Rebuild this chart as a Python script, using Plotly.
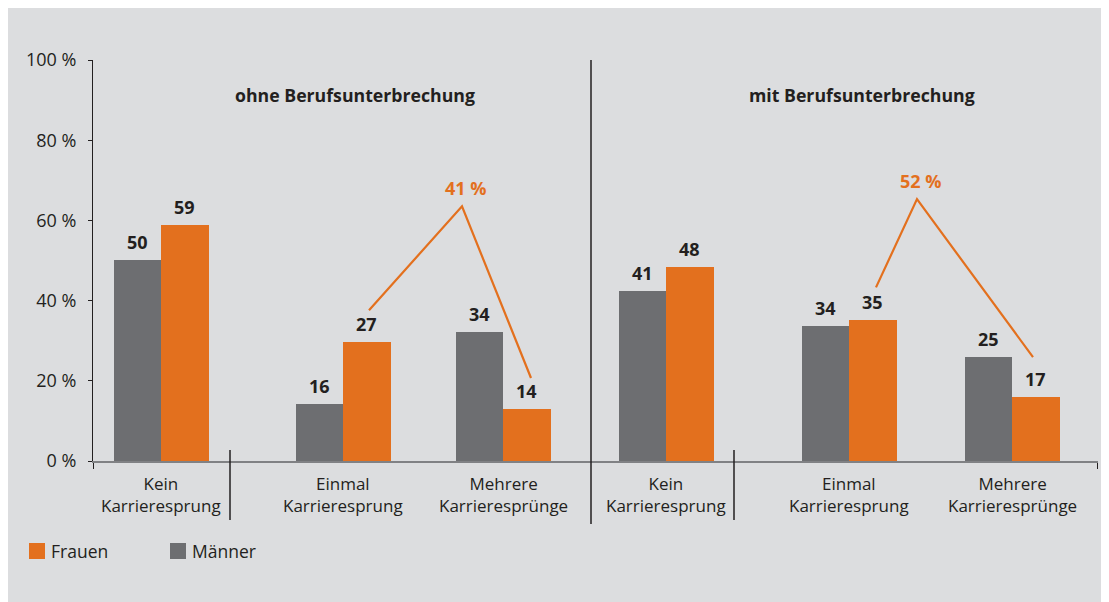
import plotly.graph_objects as go

# ---------------- data ----------------
categories = ["Kein<br>Karrieresprung", "Einmal<br>Karrieresprung", "Mehrere<br>Karrieresprünge",
              "Kein<br>Karrieresprung", "Einmal<br>Karrieresprung", "Mehrere<br>Karrieresprünge"]
panels = ["ohne Berufsunterbrechung", "mit Berufsunterbrechung"]
maenner_bar = [50.1, 14.2, 32.2, 42.4, 33.7, 25.9]
frauen_bar = [58.9, 29.7, 13.0, 48.4, 35.2, 16.0]
maenner_labels = [50, 16, 34, 41, 34, 25]
frauen_labels = [59, 27, 14, 48, 35, 17]
sum_labels = ["41 %", "52 %"]
y_ticks = [0, 20, 40, 60, 80, 100]
y_tick_text = ["0 %", "20 %", "40 %", "60 %", "80 %", "100 %"]

# ---------------- layout constants (screen pixels) ----------------
OFF = 8                      # page body margin
W, H = 1101, 594             # figure size
AX_L, AX_R, AX_T, AX_B = 93, 1098, 60, 461   # plot area on screen
ML, MT = AX_L - OFF, AX_T - OFF
MR = OFF + W - AX_R
MB = OFF + H - AX_B
PLOT_H = AX_B - AX_T
centers = [161, 343, 503, 666, 849, 1012]
bw = 47.5
GRAY_BG = "#dcdddf"
BAR_GRAY = "#6d6e71"
ORANGE = "#e3701e"
DARK = "#231f20"
FONT = "Open Sans"


def py(p):  # screen y -> paper y
    return (AX_B - p) / PLOT_H


def pxp(p):  # screen x -> paper x
    return (p - AX_L) / (AX_R - AX_L)


fig = go.Figure()
fig.add_trace(go.Bar(x=[c - bw / 2 for c in centers], y=maenner_bar, width=bw,
                     marker=dict(color=BAR_GRAY, line=dict(width=0)), name="Männer"))
fig.add_trace(go.Bar(x=[c + bw / 2 for c in centers], y=frauen_bar, width=bw,
                     marker=dict(color=ORANGE, line=dict(width=0)), name="Frauen"))

ann = []
shapes = []

# value labels
for c, v, t in zip(centers, maenner_bar, maenner_labels):
    ann.append(dict(x=c - bw / 2, y=v, text=f"<b>{t}</b>", showarrow=False, yanchor="bottom",
                    yshift=4, font=dict(size=18, color=DARK, family=FONT)))
for c, v, t in zip(centers, frauen_bar, frauen_labels):
    ann.append(dict(x=c + bw / 2, y=v, text=f"<b>{t}</b>", showarrow=False, yanchor="bottom",
                    yshift=4, font=dict(size=18, color=DARK, family=FONT)))

# category labels
for c, cat in zip(centers, categories):
    ann.append(dict(x=c, xref="x", y=py(494), yref="paper", text=cat, showarrow=False,
                    font=dict(size=17, color=DARK, family=FONT), yanchor="middle"))

# panel titles
for xc, t in zip([355, 862], panels):
    ann.append(dict(x=xc, y=py(95), yref="paper", text=f"<b>{t}</b>", showarrow=False,
                    font=dict(size=17.7, color=DARK, family=FONT), yanchor="middle"))

# dividers
for xd, ytop, ybot in [(230, 450, 520), (591, AX_T, 524), (734, 450, 520)]:
    shapes.append(dict(type="line", xref="x", yref="paper", x0=xd, x1=xd, y0=py(ybot), y1=py(ytop),
                       line=dict(color=DARK, width=1.5)))

# orange brackets (annotation geometry)
brackets = [((369, 37.6), (462, 63.5), (531, 20.7)), ((876, 43.3), (917, 65.3), (1033, 25.9))]
for (a, b, c), lab in zip(brackets, sum_labels):
    path = f"M {a[0]},{a[1]} L {b[0]},{b[1]} L {c[0]},{c[1]}"
    shapes.append(dict(type="path", xref="x", yref="y", path=path,
                       line=dict(color=ORANGE, width=2.2)))
    ann.append(dict(x=b[0] + 3, y=b[1], text=f"<b>{lab}</b>", showarrow=False, yanchor="bottom",
                    yshift=4, font=dict(size=18, color=ORANGE, family=FONT)))

# legend (manual)
for (sx, col, name) in [(29, ORANGE, "Frauen"), (170, BAR_GRAY, "Männer")]:
    shapes.append(dict(type="rect", xref="paper", yref="paper", x0=pxp(sx), x1=pxp(sx + 16),
                       y0=py(559), y1=py(543), fillcolor=col, line=dict(width=0)))
    ann.append(dict(x=pxp(sx + 20), xref="paper", y=py(551), yref="paper", text=name,
                    showarrow=False, xanchor="left", yanchor="middle",
                    font=dict(size=17.5, color=DARK, family=FONT)))

fig.update_layout(
    width=W, height=H,
    margin=dict(l=ML, r=MR, t=MT, b=MB, pad=0),
    paper_bgcolor=GRAY_BG, plot_bgcolor=GRAY_BG,
    showlegend=False, barmode="overlay", bargap=0,
    annotations=ann, shapes=shapes,
    font=dict(family=FONT, color=DARK, size=17),
    xaxis=dict(range=[AX_L, AX_R], showgrid=False, zeroline=False, showline=True,
               linecolor="#808184", linewidth=2, tickvals=[AX_L + 0.5, AX_R - 0.5], ticktext=["", ""],
               ticks="outside", ticklen=6, tickcolor=DARK, tickwidth=1, fixedrange=True),
    yaxis=dict(range=[0, 100], tickvals=y_ticks, ticktext=y_tick_text, showgrid=False,
               zeroline=False, showline=True, linecolor=DARK, linewidth=1,
               ticks="outside", ticklen=4, tickcolor=DARK, ticklabelstandoff=8,
               tickfont=dict(size=18, color=DARK, family=FONT), fixedrange=True),
)

fig.write_html("out.html", config=dict(displayModeBar=False))
